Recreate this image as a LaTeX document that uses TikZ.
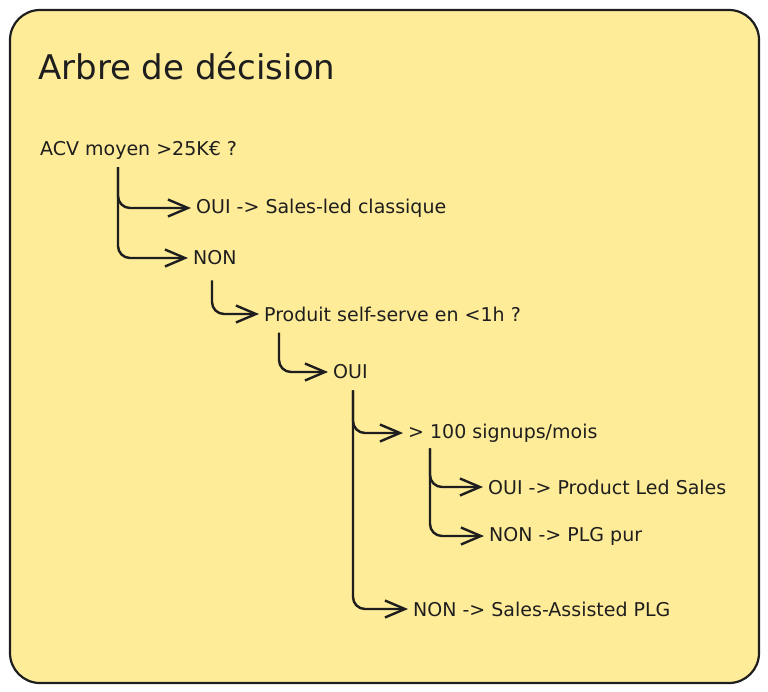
\documentclass[tikz,border=0pt]{standalone}
\usepackage{fontspec}
\setmainfont{DejaVu Sans}
\usetikzlibrary{arrows.meta,calc}
\definecolor{bg}{HTML}{FFEC99}
\definecolor{ink}{HTML}{1E1E1E}
\begin{document}
\begin{tikzpicture}[x=1pt,y=-1pt,
  lbl/.style={anchor=west,inner xsep=5pt,inner ysep=3pt,font=\fontsize{19}{21}\selectfont,text=ink},
  branch/.style={draw=ink,line width=2.4pt,rounded corners=12pt,-{Straight Barb[length=20pt,width=17pt,line width=2.4pt]}}]
\useasboundingbox (0,0) rectangle (768,691);
\draw[fill=bg,draw=ink,line width=2.2pt,rounded corners=30pt] (10,10) rectangle (759,683);
\node[anchor=west,inner sep=0pt,font=\fontsize{34}{38}\selectfont,text=ink] (title) at (38,66) {Arbre de décision};
\node[lbl] (acv) at (35,150) {ACV moyen >25K€ ?};
\node[lbl] (oui1) at (191,208) {OUI -> Sales-led classique};
\node[lbl] (non1) at (188,258) {NON};
\node[lbl] (prod) at (259,314) {Produit self-serve en <1h ?};
\node[lbl] (oui2) at (328,372) {OUI};
\node[lbl] (sign) at (403,433) {> 100 signups/mois};
\node[lbl] (oui3) at (483,487) {OUI -> Product Led Sales};
\node[lbl] (non3) at (484,536) {NON -> PLG pur};
\node[lbl] (non2) at (408,609) {NON -> Sales-Assisted PLG};
\draw[branch] ($(acv.south west)+(83,5)$) |- (oui1.west);
\draw[branch] ($(acv.south west)+(83,5)$) |- (non1.west);
\draw[branch] ($(non1.south west)+(24,12)$) |- (prod.west);
\draw[branch] ($(prod.south west)+(20,8)$) |- (oui2.west);
\draw[branch] ($(oui2.south west)+(25,8)$) |- (sign.west);
\draw[branch] ($(oui2.south west)+(25,8)$) |- (non2.west);
\draw[branch] ($(sign.south west)+(27,3)$) |- (oui3.west);
\draw[branch] ($(sign.south west)+(27,3)$) |- (non3.west);
\end{tikzpicture}
\end{document}
